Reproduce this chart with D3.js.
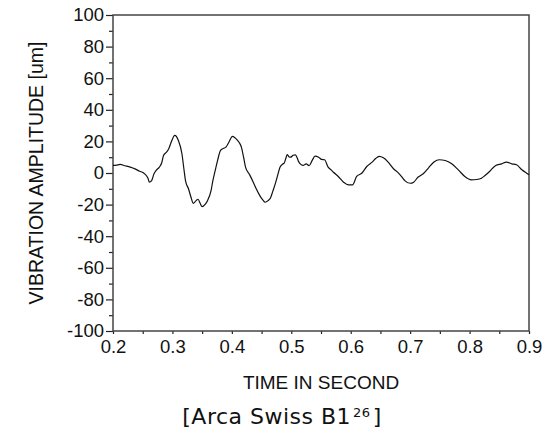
<!DOCTYPE html>
<meta charset="utf-8">
<script src="https://d3js.org/d3.v7.min.js"></script>
<style>
  body { margin: 0; background: #fff; }
</style>
<div id="my_chart"><svg></svg></div>
<script>
// time (s) and vibration amplitude (um)
var timeSec = [0.200, 0.206, 0.212, 0.220, 0.229, 0.237, 0.245, 0.251, 0.256, 0.259,
    0.261, 0.265, 0.269, 0.273, 0.278, 0.282, 0.285, 0.290, 0.294, 0.298,
    0.304, 0.310, 0.316, 0.319, 0.322, 0.327, 0.331, 0.335, 0.339, 0.343,
    0.347, 0.350, 0.355, 0.359, 0.365, 0.368, 0.372, 0.376, 0.381, 0.386,
    0.390, 0.395, 0.401, 0.407, 0.412, 0.416, 0.420, 0.423, 0.430, 0.436,
    0.441, 0.447, 0.452, 0.456, 0.461, 0.465, 0.469, 0.473, 0.477, 0.481,
    0.485, 0.488, 0.491, 0.493, 0.496, 0.499, 0.503, 0.507, 0.510, 0.512,
    0.515, 0.520, 0.525, 0.530, 0.535, 0.540, 0.546, 0.551, 0.556, 0.562,
    0.567, 0.571, 0.579, 0.588, 0.596, 0.603, 0.610, 0.619, 0.627, 0.636,
    0.642, 0.648, 0.655, 0.663, 0.672, 0.680, 0.686, 0.691, 0.700, 0.706,
    0.713, 0.722, 0.731, 0.740, 0.749, 0.759, 0.770, 0.781, 0.792, 0.803,
    0.812, 0.820, 0.826, 0.834, 0.844, 0.854, 0.862, 0.871, 0.879, 0.888,
    0.896, 0.900];
var amplitudeUm = [4.8, 5.0, 5.4, 4.6, 3.7, 2.6, 1.1, 0.2, -1.6, -3.5,
    -5.8, -4.8, -0.5, 1.8, 3.7, 6.5, 11.1, 13.2, 15.5, 19.6,
    23.8, 20.6, 12.2, 3.5, -4.8, -10, -15, -19.2, -17.8, -16.6,
    -19.5, -21.3, -19.8, -17.5, -11.1, -5, 1.6, 8, 14.3, 15.6,
    16.4, 19.5, 23.2, 21.7, 19.5, 16.4, 9.5, 3.7, -1.2, -5.8,
    -10, -14.3, -17, -18.5, -17.5, -15.8, -11.5, -6.9, -1.5, 3.7,
    5.5, 6.2, 9.5, 11.7, 10.3, 10.0, 11.2, 11.5, 9.5, 7.5,
    5.8, 4.8, 5.8, 4.6, 7.8, 10.7, 10.0, 8.6, 8.4, 3.7,
    2.0, 0.5, -2.2, -5.8, -7.5, -7.5, -2.2, 0.0, 4.1, 6.9,
    9.2, 10.5, 9.6, 6.9, 2.7, 0.1, -2.5, -4.8, -6.5, -5.8,
    -2.7, -0.5, 3.3, 6.9, 8.4, 7.9, 5.8, 2.0, -2.2, -4.3,
    -4.1, -3.3, -1.6, 1.1, 4.8, 5.8, 6.9, 5.8, 5.2, 2.0,
    -0.1, -1.1];

var xTicks = [0.2, 0.3, 0.4, 0.5, 0.6, 0.7, 0.8, 0.9];
var yTicks = [-100, -80, -60, -40, -20, 0, 20, 40, 60, 80, 100];

var xTitle = "TIME IN SECOND";
var yTitle = "VIBRATION AMPLITUDE [um]";

var data = timeSec.map(function(t, i) { return {t: t, v: amplitudeUm[i]}; });

var margin = {top: 15, right: 31, bottom: 102, left: 113},
    width = 560 - margin.left - margin.right,
    height = 433 - margin.top - margin.bottom;

var root = d3.select("#my_chart").select("svg")
    .attr("width", 560)
    .attr("height", 433)
    .style("font-family", "'Liberation Sans', Arial, sans-serif");

var svg = root.append("g")
    .attr("transform", "translate(" + margin.left + "," + margin.top + ")");

var x = d3.scaleLinear().domain([0.2, 0.9]).range([0, width]);
var y = d3.scaleLinear().domain([-100, 100]).range([height, 0]);

// minor ticks first (no labels)
svg.append("g")
    .attr("transform", "translate(0," + height + ")")
    .call(d3.axisBottom(x).tickValues(d3.range(0.25, 0.9, 0.1)).tickSize(3).tickFormat(""))
    .call(function(g) { g.select(".domain").remove(); });
svg.append("g")
    .call(d3.axisLeft(y).tickValues(d3.range(-90, 100, 20)).tickSize(4).tickFormat(""))
    .call(function(g) { g.select(".domain").remove(); });

// X axis
svg.append("g")
    .attr("transform", "translate(0," + height + ")")
    .call(d3.axisBottom(x).tickValues(xTicks).tickSize(3).tickPadding(6).tickFormat(d3.format(".1f")))
    .call(function(g) { g.select(".domain").remove(); })
    .selectAll("text").style("font-size", "18.5px").attr("fill", "#111");

// Y axis, plain hyphen for negatives like the original
svg.append("g")
    .call(d3.axisLeft(y).tickValues(yTicks).tickSize(7).tickPadding(2).tickFormat(function(d) { return String(d); }))
    .call(function(g) { g.select(".domain").remove(); })
    .selectAll("text").style("font-size", "18.5px").attr("fill", "#111");

svg.selectAll(".tick line").attr("stroke", "#222").attr("stroke-width", 1.2);

// frame
svg.append("rect")
    .attr("width", width)
    .attr("height", height)
    .attr("fill", "none")
    .attr("stroke", "#444")
    .attr("stroke-width", 1.5);

// the trace
svg.append("path")
    .datum(data)
    .attr("fill", "none")
    .attr("stroke", "#111")
    .attr("stroke-width", 1.2)
    .attr("d", d3.line()
        .curve(d3.curveMonotoneX)
        .x(function(d) { return x(d.t); })
        .y(function(d) { return y(d.v); }));

// axis titles
svg.append("text")
    .attr("x", width / 2)
    .attr("y", height + 58)
    .attr("text-anchor", "middle")
    .style("font-size", "19px")
    .attr("fill", "#111")
    .text(xTitle);

svg.append("text")
    .attr("transform", "translate(" + (-70) + "," + (height / 2) + ") rotate(-90)")
    .attr("text-anchor", "middle")
    .style("font-size", "19.5px")
    .attr("fill", "#111")
    .text(yTitle);

// caption under the figure
var cap = root.append("text")
    .attr("x", 282)
    .attr("y", 424)
    .attr("text-anchor", "middle")
    .style("font-family", "'DejaVu Sans', sans-serif")
    .style("font-size", "22px")
    .style("letter-spacing", "0.5px")
    .attr("fill", "#111");
cap.append("tspan").text("[Arca Swiss B1");
cap.append("tspan").attr("dy", -7).attr("dx", 2).style("font-size", "13px").text("26");
cap.append("tspan").attr("dy", 7).attr("dx", 2).text("]");
</script>
